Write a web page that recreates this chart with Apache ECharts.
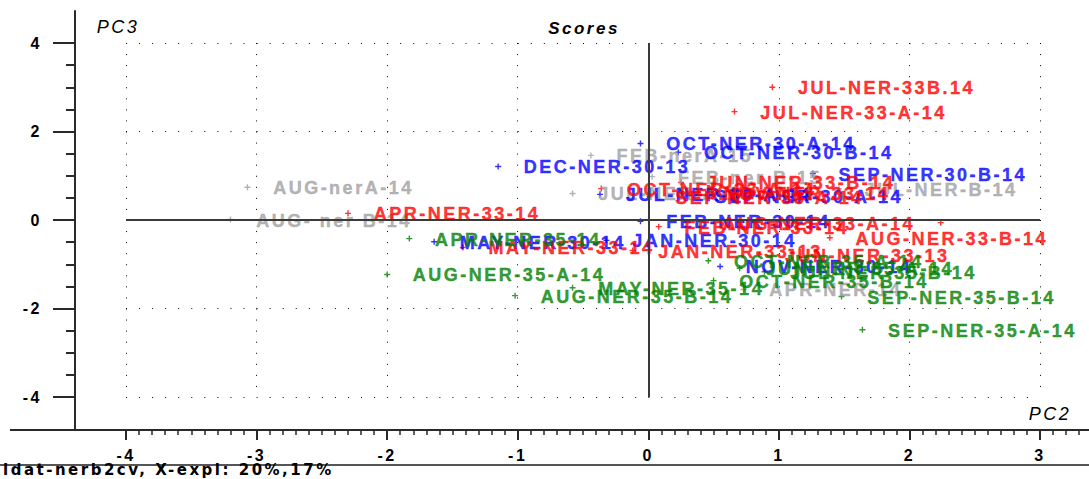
<!DOCTYPE html>
<html>
<head>
<meta charset="utf-8">
<script src="https://cdn.jsdelivr.net/npm/echarts@6/dist/echarts.min.js"></script>
<style>
  html, body { margin: 0; padding: 0; background: #ffffff; }
  #chart { width: 1089px; height: 479px; }
  /* wide, spaced lettering used throughout the plot */
  #chart text { letter-spacing: 2.5px !important; }
</style>
</head>
<body>
<div id="chart"></div>
<script>
// ---- PCA scores: PC2 (horizontal) vs PC3 (vertical), one set per sample group ----
const grayNames = ['AUG-nerA-14', 'AUG- ner B-14', 'FEB-nerA-15', 'FEB-ner B-15', 'JUL-NER-A-14', 'JUL-NER-B-14', 'APR-NER-14'];
const grayPC2   = [-3.07, -3.20, -0.44, 0.03, -0.58, 1.46, 0.73];
const grayPC3   = [0.74, 0.01, 1.46, 0.98, 0.60, 0.71, -1.57];

const ner30Names = ['OCT-NER-30-A-14', 'OCT-NER-30-B-14', 'DEC-NER-30-13', 'SEP-NER-30-B-14', 'JUL-NER-30-A-14',
                    'SEP-NER-30-A-14', 'FEB-NER-30-14', 'MAY-NER-30-14', 'JAN-NER-30-14', 'NOV-NER-30-14'];
const ner30PC2   = [-0.06, 0.23, -1.15, 1.26, -0.37, 0.31, -0.06, -1.64, -0.32, 0.55];
const ner30PC3   = [1.73, 1.53, 1.21, 1.05, 0.58, 0.55, -0.03, -0.49, -0.46, -1.05];

const ner33Names = ['JUL-NER-33B.14', 'JUL-NER-33-A-14', 'APR-NER-33-14', 'OCT-NER-33-A-14', 'JUN-NER-33-B-14',
                    'SEP-NER-33-A-14', 'NOV-NER-33-14', 'AUG-NER-33-A-14', 'FEB-NER-33-14', 'AUG-NER-33-B-14',
                    'MAY-NER-33-14', 'JAN-NER-33-13', 'JUN-NER-33-13'];
const ner33PC2   = [0.95, 0.66, -2.30, -0.36, 0.25, 0.01, 0.38, 2.24, 0.08, 1.39, -1.42, -0.12, 0.85];
const ner33PC3   = [3.00, 2.45, 0.15, 0.71, 0.85, 0.53, 0.62, -0.06, -0.15, -0.40, -0.62, -0.69, -0.78];

const ner35Names = ['APR-NER-35-14', 'AUG-NER-35-A-14', 'AUG-NER-35-B-14', 'MAY-NER-35-14', 'OCT-NER-35-A-14',
                    'JUN-NER-35-A-14', 'JUL-NER-35-B-14', 'OCT-NER-35-B-14', 'SEP-NER-35-B-14', 'SEP-NER-35-A-14'];
const ner35PC2   = [-1.83, -2.00, -1.02, -0.58, 0.46, 0.70, 0.89, 0.50, 1.48, 1.64];
const ner35PC3   = [-0.42, -1.23, -1.71, -1.53, -0.92, -1.09, -1.17, -1.37, -1.73, -2.48];

// samples whose name is written on the left of the marker
const leftLabelled = ['AUG-NER-33-A-14'];

// ---- axis ticks ----
const xTickRange = [-4, 4];
const yTickRange = [-4, 4];
const xPlotMax = 3;              // right end of the dotted frame
const xTickStep = 1, xMinorStep = 0.1;
const yTickStep = 2, yMinorStep = 0.5;

// ---- layout ----
const W = 1089, H = 479;
const plot  = { left: 126, top: 43, right: 1040, bottom: 397 };   // dotted frame: x -4..3, y -4..4
const frame = { left: 75, top: 11, right: 1089, bottom: 430 };    // axis lines
const kx = (plot.right - plot.left) / (xPlotMax - xTickRange[0]);
const ky = (plot.bottom - plot.top) / (yTickRange[1] - yTickRange[0]);
const outerXMin = xTickRange[0] - (plot.left - frame.left) / kx;
const outerXMax = xPlotMax + (frame.right - plot.right) / kx;
const outerYMin = yTickRange[0] - (frame.bottom - plot.bottom) / ky;
const outerYMax = yTickRange[1] + (plot.top - frame.top) / ky;

const FONT = '"Liberation Sans", Arial, sans-serif';
const AXIS = '#2a2a2a';
const hidden = { show: false };
const axisLineStyle = { show: true, onZero: false, lineStyle: { color: AXIS, width: 2 } };

function group(names, pc2, pc3, color, withZeroLines) {
  const s = {
    type: 'scatter',
    xAxisIndex: 2, yAxisIndex: 2,
    symbol: 'path://M0 3H6M3 0V6',
    symbolSize: 6,
    itemStyle: { color: color, borderColor: color, borderWidth: 1.4 },
    label: {
      show: true, position: 'right', distance: 22, offset: [0, 1],
      formatter: '{b}', color: color,
      fontFamily: FONT, fontWeight: 'bold', fontSize: 18,
      textBorderColor: color, textBorderWidth: 0.4
    },
    emphasis: { disabled: true },
    animation: false,
    data: names.map((n, i) => {
      const d = { name: n, value: [pc2[i], pc3[i]] };
      if (leftLabelled.includes(n)) d.label = { position: 'left' };
      return d;
    })
  };
  if (withZeroLines) {
    s.markLine = {
      silent: true, symbol: ['none', 'none'], animation: false,
      label: { show: false },
      lineStyle: { type: 'solid', color: '#3a3a3a', width: 2 },
      emphasis: { disabled: true },
      data: [{ xAxis: 0 }, { yAxis: 0 }]
    };
  }
  return s;
}

const chart = echarts.init(document.getElementById('chart'), null, { renderer: 'svg', width: W, height: H });

chart.setOption({
  animation: false,
  backgroundColor: '#ffffff',
  grid: [
    // 0: the two axis lines
    { left: frame.left, top: frame.top, width: frame.right - frame.left, height: frame.bottom - frame.top,
      containLabel: false, outerBoundsMode: 'none' },
    // 1: PC2 ticks and labels along the bottom axis line
    { left: plot.left, top: plot.top, width: (xTickRange[1] - xTickRange[0]) * kx, height: frame.bottom - plot.top,
      containLabel: false, outerBoundsMode: 'none' },
    // 2: dotted frame holding the scores; its y axes carry the PC3 ticks
    { left: plot.left, top: plot.top, width: plot.right - plot.left, height: plot.bottom - plot.top,
      containLabel: false, outerBoundsMode: 'none' }
  ],
  xAxis: [
    { gridIndex: 0, type: 'value', position: 'bottom', min: outerXMin, max: outerXMax,
      axisLine: axisLineStyle, axisTick: hidden, axisLabel: hidden, splitLine: hidden },
    { gridIndex: 1, type: 'value', position: 'bottom', min: xTickRange[0], max: xTickRange[1], interval: xTickStep,
      axisLine: axisLineStyle,
      axisTick: { show: true, length: 10, lineStyle: { color: AXIS, width: 2 } },
      axisLabel: { show: true, margin: 17, color: '#000', showMaxLabel: false,
                   fontFamily: FONT, fontWeight: 'bold', fontSize: 16 },
      splitLine: hidden },
    { gridIndex: 2, type: 'value', position: 'bottom', min: xTickRange[0], max: xPlotMax, interval: xTickStep,
      axisLine: { show: false, onZero: false }, axisTick: hidden, axisLabel: hidden,
      splitLine: { show: true, lineStyle: { color: '#000', width: 1, type: [1, ky * 0.25 - 1] } } },
    { gridIndex: 1, type: 'value', position: 'bottom', min: xTickRange[0], max: xTickRange[1], interval: xMinorStep,
      axisLine: axisLineStyle,
      axisTick: { show: true, length: 5, lineStyle: { color: AXIS, width: 1.5 } },
      axisLabel: hidden, splitLine: hidden }
  ],
  yAxis: [
    { gridIndex: 0, type: 'value', position: 'left', min: outerYMin, max: outerYMax,
      axisLine: axisLineStyle, axisTick: hidden, axisLabel: hidden, splitLine: hidden },
    { gridIndex: 1, type: 'value', show: false, min: 0, max: 1 },
    { gridIndex: 2, type: 'value', position: 'left', offset: plot.left - frame.left,
      min: yTickRange[0], max: yTickRange[1], interval: yTickStep,
      axisLine: axisLineStyle,
      axisTick: { show: true, length: 22, lineStyle: { color: AXIS, width: 2 } },
      axisLabel: { show: true, margin: 33, color: '#000', fontFamily: FONT, fontWeight: 'bold', fontSize: 16 },
      splitLine: { show: true, lineStyle: { color: '#000', width: 1, type: [1, kx * 0.1 - 1] } } },
    { gridIndex: 2, type: 'value', position: 'left', offset: plot.left - frame.left,
      min: yTickRange[0], max: yTickRange[1], interval: yMinorStep,
      axisLine: axisLineStyle,
      axisTick: { show: true, length: 9, lineStyle: { color: AXIS, width: 2 } },
      axisLabel: hidden, splitLine: hidden }
  ],
  graphic: [
    { type: 'line', silent: true, shape: { x1: 10, y1: frame.bottom, x2: frame.left, y2: frame.bottom },
      style: { stroke: AXIS, lineWidth: 2 } },
    { type: 'line', silent: true, shape: { x1: 0, y1: 465, x2: W, y2: 465 },
      style: { stroke: '#555555', lineWidth: 2 } },
    { type: 'text', silent: true, x: 584, y: 28,
      style: { text: 'Scores', fill: '#000', font: 'italic bold 17px ' + FONT, textAlign: 'center', textVerticalAlign: 'middle' } },
    { type: 'text', silent: true, x: 118, y: 27,
      style: { text: 'PC3', fill: '#000', font: 'italic 18px ' + FONT, textAlign: 'center', textVerticalAlign: 'middle' } },
    { type: 'text', silent: true, x: 1050, y: 414,
      style: { text: 'PC2', fill: '#000', font: 'italic 18px ' + FONT, textAlign: 'center', textVerticalAlign: 'middle' } },
    { type: 'text', silent: true, x: 3, y: 470,
      style: { text: 'ldat-nerb2cv, X-expl: 20%,17%', fill: '#000', font: 'bold 15px "DejaVu Sans", sans-serif', textAlign: 'left', textVerticalAlign: 'middle' } }
  ],
  series: [
    group(grayNames, grayPC2, grayPC3, '#a0a0a4', true),
    group(ner30Names, ner30PC2, ner30PC3, '#0000ff', false),
    group(ner33Names, ner33PC2, ner33PC3, '#ff0000', false),
    group(ner35Names, ner35PC2, ner35PC3, '#008000', false)
  ]
});
</script>
</body>
</html>
